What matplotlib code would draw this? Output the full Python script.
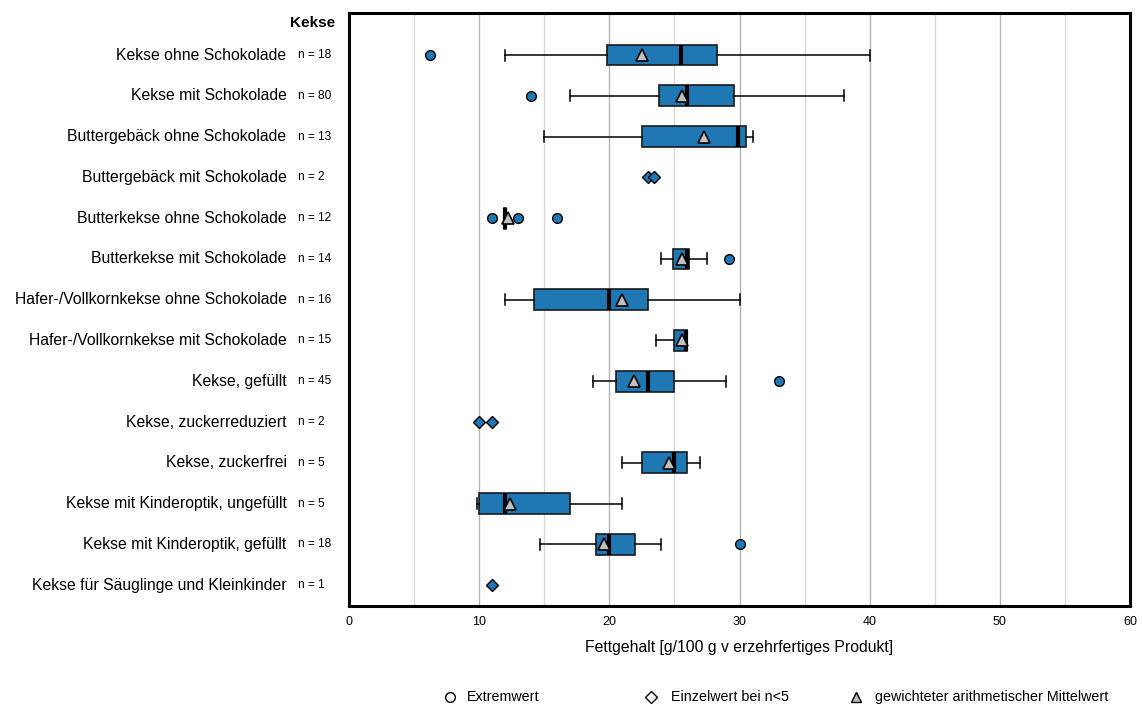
import numpy as np
import matplotlib
matplotlib.use('Agg')
import matplotlib.pyplot as plt
import matplotlib.transforms as mtransforms
from matplotlib.lines import Line2D

plt.rcParams['font.family'] = ['Liberation Sans', 'DejaVu Sans']

# data (g fat / 100 g)
group_title = 'Kekse'
labels = ['Kekse ohne Schokolade', 'Kekse mit Schokolade', 'Buttergebäck ohne Schokolade',
          'Buttergebäck mit Schokolade', 'Butterkekse ohne Schokolade', 'Butterkekse mit Schokolade',
          'Hafer-/Vollkornkekse ohne Schokolade', 'Hafer-/Vollkornkekse mit Schokolade',
          'Kekse, gefüllt', 'Kekse, zuckerreduziert', 'Kekse, zuckerfrei',
          'Kekse mit Kinderoptik, ungefüllt', 'Kekse mit Kinderoptik, gefüllt',
          'Kekse für Säuglinge und Kleinkinder']
n_counts = [18, 80, 13, 2, 12, 14, 16, 15, 45, 2, 5, 5, 18, 1]
nan = np.nan
whisk_lo = [12.0, 17.0, 15.0, nan, 11.9, 24.0, 12.0, 23.6, 18.75, nan, 21.0, 9.8, 14.65, nan]
q1 = [19.8, 23.8, 22.5, nan, 11.9, 24.9, 14.2, 25.0, 20.5, nan, 22.5, 10.0, 19.0, nan]
medians = [25.5, 26.0, 29.85, nan, 12.0, 26.0, 20.0, 25.9, 23.0, nan, 25.0, 12.0, 20.0, nan]
q3 = [28.3, 29.6, 30.5, nan, 12.05, 26.1, 23.0, 26.0, 25.0, nan, 26.0, 17.0, 22.0, nan]
whisk_hi = [40.0, 38.0, 31.0, nan, 12.05, 27.5, 30.0, 26.0, 29.0, nan, 27.0, 21.0, 24.0, nan]
means = [22.5, 25.6, 27.3, nan, 12.2, 25.55, 21.0, 25.6, 21.9, nan, 24.6, 12.4, 19.6, nan]
outliers = [[6.2], [14.0], [], [], [11.0, 13.0, 16.0], [29.2], [], [], [33.0], [], [], [], [30.0], []]
singles = [[], [], [], [23.0, 23.4], [], [], [], [], [], [10.0, 11.0], [], [], [], [11.0]]

x_label = 'Fettgehalt [g/100 g v erzehrfertiges Produkt]'
legend_labels = ['Extremwert', 'Einzelwert bei n<5', 'gewichteter arithmetischer Mittelwert']

blue = '#1f77b4'

fig = plt.figure(figsize=(11.42, 7.06), dpi=100)
ax = fig.add_axes([349 / 1142, 1 - 606 / 706, 781 / 1142, 593 / 706])

stats, pos = [], []
for i in range(len(labels)):
    if np.isnan(medians[i]):
        continue
    stats.append(dict(whislo=whisk_lo[i], q1=q1[i], med=medians[i], q3=q3[i],
                      whishi=whisk_hi[i], mean=means[i], fliers=outliers[i]))
    pos.append(i)

ax.bxp(stats, positions=pos, orientation='horizontal', widths=0.51, capwidths=0.27,
       showmeans=True, patch_artist=True, manage_ticks=False,
       boxprops=dict(facecolor=blue, edgecolor='#1a1a1a', linewidth=1.2),
       medianprops=dict(color='black', linewidth=3),
       whiskerprops=dict(color='black', linewidth=1.1),
       capprops=dict(color='black', linewidth=1.1),
       meanprops=dict(marker='^', markerfacecolor='#c0c0c0', markeredgecolor='black',
                      markeredgewidth=1.2, markersize=8),
       flierprops=dict(marker='o', markerfacecolor=blue, markeredgecolor='black',
                       markeredgewidth=1.0, markersize=7))

for i, vals in enumerate(singles):
    if vals:
        ax.plot(vals, [i] * len(vals), 'D', mfc=blue, mec='black', mew=1.0, ms=6.5, zorder=3)

ax.set_xlim(0, 60)
ax.set_ylim(13.51, -1.03)
ax.set_xticks(range(0, 61, 10))
ax.set_xticks(range(5, 60, 10), minor=True)
ax.set_yticks([])
ax.grid(axis='x', which='major', color='#b4b4b4', lw=1)
ax.grid(axis='x', which='minor', color='#d9d9d9', lw=1)
ax.set_axisbelow(True)
ax.tick_params(axis='x', which='both', length=0, pad=7, labelsize=9)
for s in ax.spines.values():
    s.set_linewidth(2.2)
ax.set_xlabel(x_label, fontsize=11.3, labelpad=9)

# category labels left of the axis
trans = mtransforms.blended_transform_factory(ax.transAxes, ax.transData)
for i, (lab, n) in enumerate(zip(labels, n_counts)):
    ax.text(-0.08, i, lab, transform=trans, ha='right', va='center', fontsize=11.3)
    ax.text(-0.065, i, 'n = %d' % n, transform=trans, ha='left', va='center', fontsize=8.6)
ax.text(-0.018, -0.78, group_title, transform=trans, ha='right', va='center',
        fontsize=11, fontweight='bold')

# legend row at the bottom
ly = 1 - 697 / 706
markers = [('o', 'white'), ('D', 'white'), ('^', '#bfbfbf')]
mx = [450, 651, 856]
tx = [467, 671, 875]
for (m, fc), x0, x1, txt in zip(markers, mx, tx, legend_labels):
    fig.add_artist(Line2D([x0 / 1142], [ly], marker=m, ms=7 if m != 'D' else 6,
                          mfc=fc, mec='black', mew=1.0, transform=fig.transFigure))
    fig.text(x1 / 1142, ly, txt, ha='left', va='center', fontsize=10.3)

fig.savefig('out.png', dpi=100)
